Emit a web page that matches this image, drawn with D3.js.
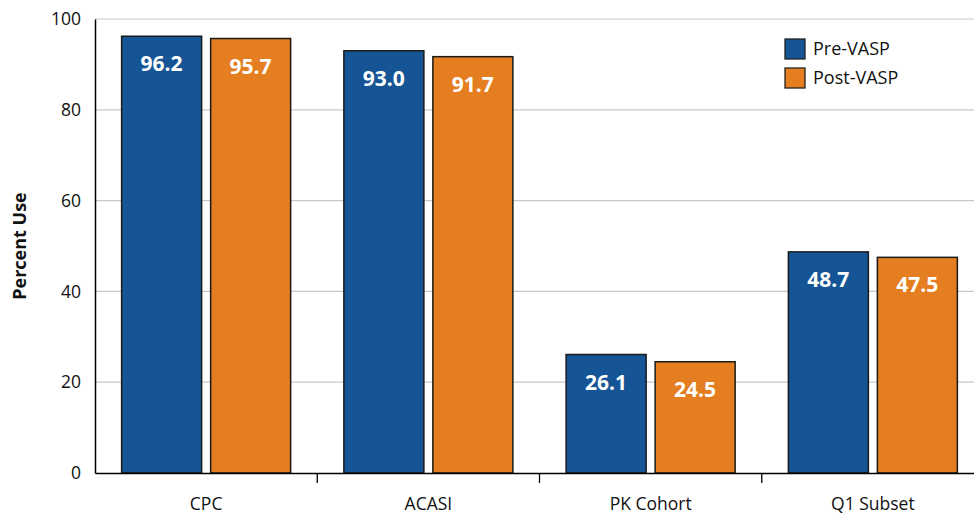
<!DOCTYPE html>
<html><head><meta charset="utf-8">
<script src="https://cdn.jsdelivr.net/npm/d3@7"></script>
<style>
html,body{margin:0;padding:0;background:#fff;}
svg{display:block;font-family:"Open Sans","Noto Sans",sans-serif;}
</style></head>
<body><svg id="chart" width="974" height="515"></svg>
<script>
const categories = ["CPC", "ACASI", "PK Cohort", "Q1 Subset"];
const seriesNames = ["Pre-VASP", "Post-VASP"];
const preVASP = [96.2, 93.0, 26.1, 48.7];
const postVASP = [95.7, 91.7, 24.5, 47.5];
const yTicks = [0, 20, 40, 60, 80, 100];
const colors = ["#155596", "#E47E20"];

(function(){
const svg = d3.select("#chart");
const mLeft = 95, mRight = 984, mTop = 19, mBottom = 473;
const x = d3.scaleBand().domain(categories).range([mLeft, mRight]).padding(0);
const y = d3.scaleLinear().domain([0, 100]).range([mBottom, mTop]);

// gridlines
svg.append("g").selectAll("line").data(yTicks.filter(d => d > 0)).join("line")
  .attr("x1", mLeft).attr("x2", 974)
  .attr("y1", d => y(d)).attr("y2", d => y(d))
  .attr("stroke", "#c8c8c8").attr("stroke-width", 1.2);

// bars
const data = [preVASP, postVASP];
const gBars = svg.append("g");
seriesNames.forEach((s, si) => {
  gBars.append("g").selectAll("rect").data(categories).join("rect")
    .attr("x", (c) => x(c) + x.bandwidth()/2 + (si === 0 ? -84.5 : 4.5))
    .attr("width", 80)
    .attr("y", (c, i) => y(data[si][i]))
    .attr("height", (c, i) => mBottom - y(data[si][i]))
    .attr("fill", colors[si])
    .attr("stroke", "#1a1a1a").attr("stroke-width", 1.5);
  gBars.append("g").selectAll("text").data(categories).join("text")
    .attr("x", (c) => x(c) + x.bandwidth()/2 + (si === 0 ? -44.5 : 44.5))
    .attr("y", (c, i) => y(data[si][i]) + 35)
    .attr("text-anchor", "middle")
    .attr("fill", "#fff").attr("font-weight", "bold").attr("font-size", 21)
    .text((c, i) => data[si][i].toFixed(1));
});

// y axis
const yAxis = d3.axisLeft(y).tickValues(yTicks).tickSize(0).tickPadding(14);
const gy = svg.append("g").attr("transform", `translate(${mLeft},0)`).call(yAxis);
gy.select(".domain").attr("stroke", "#000").attr("stroke-width", 1.5);
gy.selectAll("text").attr("font-size", 17.5).attr("fill", "#111").attr("font-family", "'Open Sans',sans-serif");

// x axis
const xAxis = d3.axisBottom(x).tickSize(0).tickPadding(25);
const gx = svg.append("g").attr("transform", `translate(0,${mBottom})`).call(xAxis);
gx.select(".domain").attr("stroke", "#000").attr("stroke-width", 1.5);
gx.selectAll("text").attr("font-size", 17.5).attr("fill", "#111").attr("font-family", "'Open Sans',sans-serif");
// separators
svg.append("g").selectAll("line").data(categories.slice(1)).join("line")
  .attr("x1", d => x(d)).attr("x2", d => x(d))
  .attr("y1", mBottom).attr("y2", mBottom + 10)
  .attr("stroke", "#000").attr("stroke-width", 1.3);

// y label
svg.append("text")
  .attr("transform", `translate(26,${(mTop + mBottom)/2}) rotate(-90)`)
  .attr("text-anchor", "middle").attr("font-weight", "bold").attr("font-size", 18)
  .attr("fill", "#111").text("Percent Use");

// legend
const lg = svg.append("g").attr("transform", "translate(785,39)");
seriesNames.forEach((s, i) => {
  lg.append("rect").attr("x", 0).attr("y", i * 29).attr("width", 20).attr("height", 20)
    .attr("fill", colors[i]).attr("stroke", "#222").attr("stroke-width", 1.3);
  lg.append("text").attr("x", 28).attr("y", i * 29 + 16).attr("font-size", 18)
    .attr("fill", "#111").text(s);
});
})();
</script></body></html>
